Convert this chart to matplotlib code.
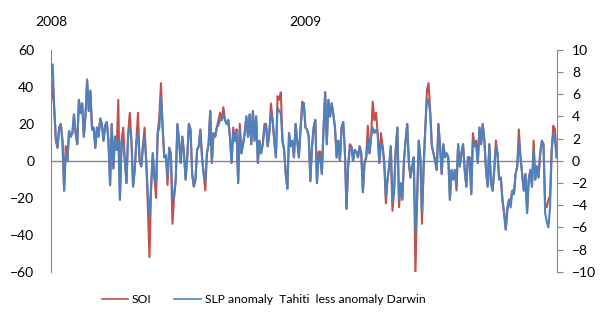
# -------------------------------------------------------------------------- #
# ------------------------- Imported Modules --------------------------------#

import numpy as np
import pandas as pd
import matplotlib
matplotlib.use("Agg")
import matplotlib.pyplot as plt

# -------------------------------------------------------------------------- #
# ------------------------- Data ---------------------- #

startDate = "2008-01-01"
endDate = "2009-12-29"
yearLabels = ["2008", "2009"]
yearTicks = ["2008-01-01", "2009-01-01"]

# SOI (left axis)
soi = [
    31, 43, 27, 11, 7, 18, 20, 11, -16, 8,
    0, 16, 13, 15, 25, 15, 9, 33, 26, 31,
    13, 24, 44, 27, 38, 17, 18, 7, 18, 13,
    23, 20, 11, 19, 21, 11, -13, 20, -4, 13,
    6, 33, -21, 11, 18, 0, -12, 15, 26, 11,
    -14, -5, 11, 26, 0, -3, 8, 18, 0, -25,
    -52, -14, 4, -9, -20, 15, 24, 42, 18, 2,
    3, -13, 7, 4, -34, -19, -10, 20, 11, -1,
    13, 4, -10,
    2, 20, 17, -7, -14, -10, 6,
    8, 17, 2, -7, -16, 4, 9, 27, -1, 15,
    13, 18, 22, 26, 22, 29, 22, 20, 22, 13,
    -1, 18, 11, 17, -12, 20, 4, 9, 15, 24,
    13, 25, 9, 27, 11, 24, -1, 11, 4, 9,
    20, 20, 8, 15, 31, 22, 11, 2, 35, 33,
    37, 11, 6, -7, -15, 15, 8, 11, 2, 20,
    11, 2, 17, 32, 31, 18, 17, 13, -11, 8,
    18, 22, -12, 5, 5, -7, 17, 37, 9, 33,
    24, 31, 25, 18, 2, 11, 0, 18, 21, 6,
    -26, -3, 9, 8, 0, 6, 5, 2, 8, 4,
    -17, -1, 2, 19, 4, 13, 32, 22, 26, 15,
    -1, 15, 8, -1, -23, -10, -3, 8, -27, -16,
    6, 18, -25, -12, -21, 0, 11, 20, -1, -9,
    -3, 2, -61, -21, 11, 2, -34, -3, 18, 38,
    42, 27, 8, 4, 0, -5, 20, 8, -7, 9,
    2, 4, 2, -21, -5, -10, -5, -16, 9, -3,
    4, 9, -5, -14, 2, 2, -18, 15, 8, 11,
    -1, 18, 9, 20, 11, -5, -14, 9, -12, -16,
    -5, 11, 4, -10, -9, -21, -28, -37, -25, -21,
    -21, -16, -18, -7, -3, 17, 2, -7, -16, -7,
    -28, -10, -5, -14, 11, -10, -3, -9, 4, 11,
    9, -23, -25, -21, -19, 6, 19, 17, 2,
]

# SLP anomaly Tahiti less anomaly Darwin, hPa (right axis)
slpDiff = [
    8.5, 8.7, 4.8, 1.8, 1.2, 3.0, 3.3, 1.8, -2.7, 0.7,
    0.0, 2.7, 2.2, 2.5, 4.2, 2.5, 1.5, 5.5, 4.3, 5.2,
    2.2, 4.0, 7.3, 4.5, 6.3, 2.8, 3.0, 1.2, 3.0, 2.2,
    3.8, 3.3, 1.8, 3.2, 3.5, 1.8, -2.2, 3.3, -0.7, 2.2,
    1.0, 1.8, -3.5, 1.8, 1.5, 0.0, -2.0, 2.5, 3.0, 1.8,
    -2.3, -0.8, 1.8, 2.5, 0.0, -0.5, 1.3, 2.2, 0.0, -3.0,
    -5.0, -2.3, 0.7, -1.5, -2.0, 2.5, 3.0, 5.8, 3.0, 0.3,
    0.5, -1.5, 1.2, 0.7, -3.5, -3.2, -1.7, 3.3, 1.8, -0.2,
    2.2, 0.7, -1.7,
    0.3, 3.3, 2.8, -1.2, -2.3, -1.7, 1.0,
    1.3, 2.8, 0.3, -1.2, -1.8, 0.7, 1.5, 4.5, -0.2, 2.5,
    2.2, 3.0, 3.2, 3.7, 3.7, 4.2, 3.7, 3.3, 3.7, 2.2,
    -0.2, 2.5, 1.8, 2.8, -2.0, 2.8, 0.7, 1.5, 2.5, 4.0,
    2.2, 4.2, 1.5, 4.5, 1.8, 4.0, -0.2, 1.8, 0.7, 1.5,
    2.8, 3.3, 1.3, 2.5, 4.3, 3.7, 1.8, 0.3, 4.8, 4.5,
    4.3, 1.8, 1.0, -1.2, -2.5, 2.5, 1.3, 1.8, 0.3, 3.3,
    1.8, 0.3, 2.8, 4.8, 5.2, 3.0, 2.8, 2.2, -1.8, 1.3,
    3.0, 3.7, -2.0, 0.3, 0.3, -1.2, 2.8, 6.2, 1.5, 5.5,
    4.0, 5.2, 4.2, 3.0, 0.3, 1.8, 0.0, 3.0, 3.5, 1.0,
    -4.3, -0.5, 1.0, 1.3, 0.0, 1.0, 0.8, 0.3, 1.3, 0.7,
    -2.8, -0.2, 0.3, 1.8, 0.7, 2.2, 3.0, 2.5, 2.8, 2.5,
    -0.2, 1.5, 1.3, -0.2, -3.2, -1.7, -0.5, 1.3, -3.8, -2.7,
    1.0, 3.0, -3.5, -2.0, -3.5, 0.0, 1.8, 3.3, -0.2, -1.5,
    -0.5, 0.3, -6.5, -3.5, 1.8, 0.3, -4.7, -0.5, 3.0, 5.5,
    5.5, 4.3, 1.3, 0.7, 0.0, -0.8, 3.3, 1.3, -1.2, 1.5,
    0.3, 0.7, 0.3, -3.5, -0.8, -1.7, -0.8, -2.3, 1.5, -0.5,
    0.7, 1.5, -0.8, -2.3, 0.3, 0.3, -3.0, 1.8, 1.3, 1.3,
    -0.2, 3.0, 1.5, 3.3, 1.8, -0.8, -2.3, 1.5, -2.0, -2.7,
    -0.8, 1.3, 0.7, -1.7, -1.5, -3.5, -4.7, -6.2, -4.5, -3.5,
    -4.2, -2.7, -3.0, -1.2, -0.5, 1.8, 0.3, -1.2, -2.7, -1.2,
    -4.7, -1.7, -0.8, -2.3, 1.0, -1.7, -0.5, -1.5, 0.7, 1.8,
    1.5, -4.7, -5.5, -6.0, -4.2, 1.0, 2.5, 1.8, 0.3,
]

# -------------------------------------------------------------------------- #
# ------------------------- Plotting ----------------------------------------#

plt.rcParams['font.family'] = ['Lato', 'DejaVu Sans']
redColor = '#C0504D'
blueColor = '#4F81BD'
axisColor = '#868686'

n = min(len(soi), len(slpDiff))
dates = pd.date_range(startDate, endDate, periods=n)

fig = plt.figure(figsize=(6.07, 3.26), dpi=100)
ax = fig.add_axes([0.084, 0.166, 0.833, 0.681])
ax2 = ax.twinx()

# Lines
soiLine, = ax.plot(dates, soi[:n], color=redColor, linewidth=1.5, label="SOI")
slpLine, = ax2.plot(dates, slpDiff[:n], color=blueColor, linewidth=1.5,
                    label="SLP anomaly  Tahiti  less anomaly Darwin")
ax.axhline(0, color=axisColor, linewidth=1.0, zorder=0)

# Axis limits and ticks
ax.set_xlim(dates[0], dates[-1])
ax.set_ylim(-60, 60)
ax.set_yticks(np.arange(-60, 61, 20))
ax2.set_ylim(-10, 10)
ax2.set_yticks(np.arange(-10, 11, 2))

ax.set_xticks(pd.to_datetime(yearTicks))
ax.set_xticklabels(yearLabels)
ax.xaxis.tick_top()
ax.tick_params(axis='x', length=0, pad=16, labelsize=10)
ax.tick_params(axis='y', length=0, pad=12, labelsize=10)
ax2.tick_params(axis='y', length=4, pad=7, labelsize=10, color=axisColor, direction='out')

# Spines
for a in (ax, ax2):
    a.spines['top'].set_visible(False)
    a.spines['bottom'].set_visible(False)
    a.spines['left'].set_color(axisColor)
    a.spines['right'].set_color(axisColor)
ax.spines['right'].set_visible(False)
ax2.spines['left'].set_visible(False)

# Legend below the plot
leg = fig.legend(handles=[soiLine, slpLine], loc='center', bbox_to_anchor=(0.434, 0.08),
                 ncol=2, frameon=False, fontsize=8.7, handlelength=2.2, columnspacing=1.9,
                 handletextpad=0.3)
for line in leg.get_lines():
    line.set_linewidth(1.2)

fig.savefig("out.png", dpi=100)
